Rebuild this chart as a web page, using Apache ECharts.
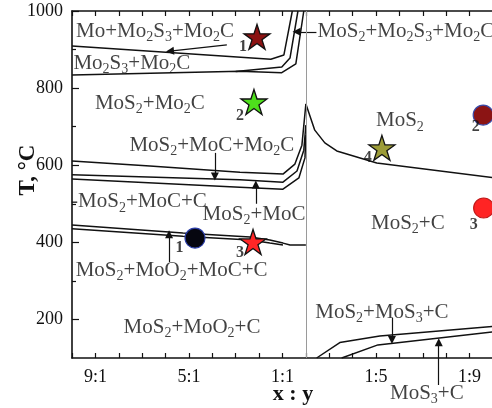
<!DOCTYPE html>
<html><head><meta charset="utf-8">
<script src="https://cdn.jsdelivr.net/npm/echarts@6/dist/echarts.min.js"></script>
<style>html,body{margin:0;padding:0;background:#fff}#c{width:492px;height:408px}</style>
</head><body><div id="c"></div>
<script>
// ---- axis ticks / labels ----
const xTickValues = [0,1,2,3,4,5,6,7,8,9,10,11,12,13,14,15,16,17,18];
const xLabelPos = [1, 5, 9, 13, 17];
const xLabelText = ['9:1', '5:1', '1:1', '1:5', '1:9'];
const yMajorValues = [200, 400, 600, 800, 1000];
const yMinorValues = [300, 500, 700, 900];
const dividerX = 10;

// ---- phase boundaries [x, T] ----
const lineA  = [[0,909],[8.5,875],[9.06,886],[9.42,1000]];
const lineB2 = [[7.0,843],[8.97,855],[9.32,878],[9.66,1000]];
const lineB  = [[0,834],[7.18,844],[8.97,840],[9.57,863],[9.91,1000]];
const lineC  = [[0,611],[3.33,598],[7.18,582],[9.02,577],[9.53,603],[9.83,652],[10,759]];
const lineD  = [[0,575],[7.18,562],[9.02,556],[9.62,585],[9.91,639],[10,704]];
const lineE  = [[0,564],[7.18,543],[9.02,538],[9.70,567],[9.96,619],[10,678]];
const lineR  = [[10,759],[10.38,691],[10.81,658],[11.32,637],[13.03,606],[18,568]];
const lineF  = [[0,445],[4.74,424],[7.61,414],[8.46,406],[9.02,398],[9.32,393],[10,393]];
const lineG  = [[0,435],[4.74,416],[7.61,406],[8.46,398],[9.02,393]];
const lineH  = [[10.46,100],[11.45,140],[13.16,157],[18,182]];
const lineI  = [[11.53,100],[13.08,134],[18,168]];
const boundaries = [lineA, lineB2, lineB, lineC, lineD, lineE, lineR, lineF, lineG, lineH, lineI];

// ---- leader arrows [from, to] ----
const arrows = [
  [[6.62,912],[4.19,896]],
  [[10.45,946],[9.6,946]],
  [[6.11,632],[6.11,571]],
  [[7.86,500],[7.86,550]],
  [[4.15,349],[4.15,421]],
  [[13.68,204],[13.68,147]],
  [[15.68,30],[15.68,141]]
];

// ---- region labels [x, T, text] (_n = subscript) ----
const regionLabels = [
  [3.55, 946, 'Mo+Mo_2S_3+Mo_2C'],
  [2.56, 865, 'Mo_2S_3+Mo_2C'],
  [3.33, 761, 'MoS_2+Mo_2C'],
  [5.98, 652, 'MoS_2+MoC+Mo_2C'],
  [2.86, 505, '-MoS_2+MoC+C'],
  [7.78, 473, 'MoS_2+MoC'],
  [4.26, 328, 'MoS_2+MoO_2+MoC+C'],
  [5.13, 180, 'MoS_2+MoO_2+C'],
  [14.02, 715, 'MoS_2'],
  [14.36, 450, 'MoS_2+C'],
  [13.25, 219, 'MoS_2+MoS_3+C'],
  [15.17, 9, 'MoS_3+C']
];
const leftLabels = [[10.5, 946, 'MoS_2+Mo_2S_3+Mo_2C']];

// ---- sample markers ----
const stars = [[7.91,933],[7.78,764],[7.74,401],[13.25,645]];
const starColors = ['#8b1212','#4ee01c','#ff2626','#9c9c38'];
const circles = [[5.26,411],[17.58,730],[17.6,489]];
const circleColors = ['#06060f','#8b1414','#ff2424'];
const circleBorders = ['#2b3ea8','#3a4aa8','#c01818'];
const markerNums = [[7.31,907,'1'],[7.18,728,'2'],[7.18,372,'3'],[12.65,619,'4'],
                    [4.6,385,'1'],[17.26,699,'2'],[17.18,445,'3']];

const FONT = '"Liberation Serif", "Times New Roman", serif';
const STAR = 'path://M50,0 L61.8,36.2 L100,36.2 L69.1,58.6 L80.9,95.1 L50,72.7 L19.1,95.1 L30.9,58.6 L0,36.2 L38.2,36.2 Z';

function toRich(s){ return '{n|' + s.replace(/_(\d)/g, '}{s|$1}{n|') + '}'; }
const rich = {
  n: {fontFamily: FONT, fontSize: 21, color: '#111', lineHeight: 26},
  s: {fontFamily: FONT, fontSize: 14, color: '#111', lineHeight: 13, verticalAlign: 'bottom'}
};

const series = [];
boundaries.forEach(d => series.push({
  type: 'line', data: d, showSymbol: false, symbol: 'none', silent: true,
  lineStyle: {color: '#111', width: 1.5}, z: 3
}));
series.push({
  type: 'line', data: [], silent: true,
  markLine: {silent: true, symbol: 'none', label: {show: false},
    lineStyle: {color: '#9a9a9a', width: 1, type: 'solid'},
    data: [{xAxis: dividerX}]}
});
series.push({
  type: 'lines', coordinateSystem: 'cartesian2d', silent: true, clip: false,
  symbol: ['none', 'triangle'], symbolSize: [6, 8],
  lineStyle: {color: '#111', width: 1.2, opacity: 1},
  data: arrows.map(a => ({coords: a})), z: 4
});
series.push({
  type: 'scatter', silent: true, clip: false, symbolSize: 0,
  data: regionLabels.map(r => ({value: [r[0], r[1]], label: {formatter: toRich(r[2])}})),
  label: {show: true, position: 'inside', rich: rich}, z: 5
});
series.push({
  type: 'scatter', silent: true, clip: false, symbolSize: 0,
  data: leftLabels.map(r => ({value: [r[0], r[1]], label: {formatter: toRich(r[2])}})),
  label: {show: true, position: 'right', distance: 0, rich: rich}, z: 5
});
series.push({
  type: 'scatter', silent: true, clip: false, symbol: STAR, symbolSize: [26, 25],
  data: stars.map((p, i) => ({value: p, itemStyle: {color: starColors[i]}})),
  itemStyle: {borderColor: '#111', borderWidth: 1.3, opacity: 1}, z: 6
});
series.push({
  type: 'scatter', silent: true, clip: false, symbol: 'circle', symbolSize: 20,
  data: circles.map((p, i) => ({value: p, itemStyle: {color: circleColors[i], borderColor: circleBorders[i]}})),
  itemStyle: {borderWidth: 1.2, opacity: 1}, z: 6
});
series.push({
  type: 'scatter', silent: true, clip: false, symbolSize: 0,
  data: markerNums.map(r => ({value: [r[0], r[1]], label: {formatter: r[2]}})),
  label: {show: true, position: 'inside', fontFamily: FONT, fontWeight: 'bold', fontSize: 16, color: '#111'}, z: 7
});

const chart = echarts.init(document.getElementById('c'), null, {renderer: 'canvas'});
chart.setOption({
  backgroundColor: '#fff',
  animation: false,
  grid: {left: 72, top: 11, width: 421, height: 347, outerBoundsMode: 'none', containLabel: false},
  xAxis: [{
    type: 'value', min: 0, max: 18, interval: 1, position: 'bottom',
    axisLine: {show: true, lineStyle: {color: '#111', width: 1.6}},
    axisTick: {show: true, inside: true, length: 5, customValues: xTickValues, lineStyle: {color: '#111', width: 1.2}},
    axisLabel: {show: true, customValues: xLabelPos, margin: 10, fontFamily: FONT, fontSize: 18, color: '#111',
      formatter: v => { const i = xLabelPos.indexOf(Math.round(v)); return i >= 0 ? xLabelText[i] : ''; }},
    splitLine: {show: false}
  }, {
    type: 'value', min: 0, max: 18, interval: 1, position: 'top',
    axisLine: {show: true, lineStyle: {color: '#111', width: 1.6}},
    axisTick: {show: true, inside: true, length: 5, customValues: xTickValues, lineStyle: {color: '#111', width: 1.2}},
    axisLabel: {show: false}, splitLine: {show: false}
  }],
  yAxis: [{
    type: 'value', min: 100, max: 1000, position: 'left',
    axisLine: {show: true, lineStyle: {color: '#111', width: 1.6}},
    axisTick: {show: true, inside: true, length: 7, customValues: yMajorValues, lineStyle: {color: '#111', width: 1.2}},
    axisLabel: {show: true, customValues: yMajorValues, margin: 9, fontFamily: FONT, fontSize: 18, color: '#111',
      formatter: v => String(v)},
    splitLine: {show: false}
  }, {
    type: 'value', min: 100, max: 1000, position: 'left', offset: 0,
    axisLine: {show: false},
    axisTick: {show: true, inside: true, length: 4, customValues: yMinorValues, lineStyle: {color: '#111', width: 1.2}},
    axisLabel: {show: false}, splitLine: {show: false}
  }],
  graphic: [
    {type: 'text', x: 28, y: 170, rotation: Math.PI / 2, silent: true,
     style: {text: 'T, °C', font: 'bold 23px "Liberation Serif"', fill: '#111', textAlign: 'center', textVerticalAlign: 'middle'}},
    {type: 'text', x: 293, y: 394, silent: true,
     style: {text: 'x : y', font: 'bold 22px "Liberation Serif"', fill: '#111', textAlign: 'center', textVerticalAlign: 'middle'}}
  ],
  series: series
});
</script></body></html>
